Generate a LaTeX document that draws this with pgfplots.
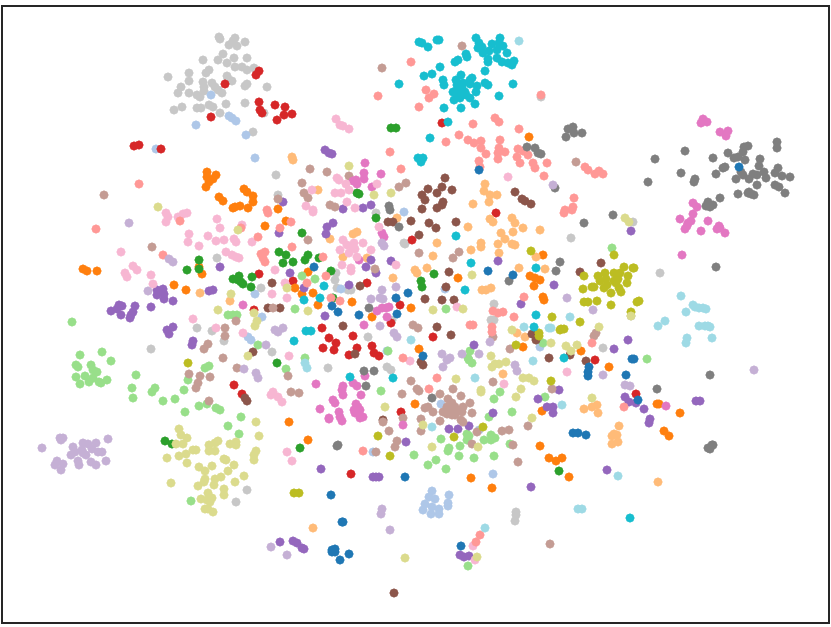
\documentclass[border=0pt]{standalone}
\usepackage{pgfplots}
\pgfplotsset{compat=1.18}
% tab20 palette
\definecolor{c0}{HTML}{1F77B4}
\definecolor{c1}{HTML}{AEC7E8}
\definecolor{c2}{HTML}{FF7F0E}
\definecolor{c3}{HTML}{FFBB78}
\definecolor{c4}{HTML}{2CA02C}
\definecolor{c5}{HTML}{98DF8A}
\definecolor{c6}{HTML}{D62728}
\definecolor{c7}{HTML}{FF9896}
\definecolor{c8}{HTML}{9467BD}
\definecolor{c9}{HTML}{C5B0D5}
\definecolor{c10}{HTML}{8C564B}
\definecolor{c11}{HTML}{C49C94}
\definecolor{c12}{HTML}{E377C2}
\definecolor{c13}{HTML}{F7B6D2}
\definecolor{c14}{HTML}{7F7F7F}
\definecolor{c15}{HTML}{C7C7C7}
\definecolor{c16}{HTML}{BCBD22}
\definecolor{c17}{HTML}{DBDB8D}
\definecolor{c18}{HTML}{17BECF}
\definecolor{c19}{HTML}{9EDAE5}
\pgfplotsset{pts/.style={only marks, mark=*, mark size=4.3pt, color=#1, mark options={draw=none, fill=#1}}}
\begin{document}
\begin{tikzpicture}
\begin{axis}[
    scale only axis,
    width=827pt, height=617pt,
    xmin=2, xmax=829, ymin=6, ymax=623,
    y dir=reverse,
    ticks=none,
    clip=false,
    axis line style={line width=1.5pt, color=black!85},
]
\path (axis cs:0,0) -- (axis cs:831,627);
\addplot[pts=c15] coordinates {(219,37)(220,39)(235,38)(233,41)(229,45)(237,46)(245,42)(223,54)(203,60)(218,60)(227,63)(234,58)(247,58)(235,67)(242,67)(247,70)(254,68)(209,70)(206,73)(189,73)(189,81)(168,77)(227,76)(228,79)(232,81)(203,82)(212,83)(247,84)(245,86)(267,87)(204,87)(204,91)(215,87)(218,90)(222,93)(181,87)(178,93)(189,93)(197,95)(200,97)(245,103)(226,104)(209,105)(213,107)(182,107)(174,110)(197,108)(201,108)(220,113)(264,113)(253,132)(276,175)(278,195)(571,238)(217,258)(261,288)(197,328)(212,331)(224,341)(151,349)(272,352)(336,273)(337,288)(348,290)(351,290)(405,244)(368,337)(387,367)(391,370)(328,368)(491,320)(494,320)(494,304)(603,348)(236,502)(247,490)(516,512)(516,515)(515,521)(376,213)(335,280)(404,243)(392,320)(541,97)(633,222)(631,316)(660,273)};
\addplot[pts=c1] coordinates {(211,95)(196,125)(229,116)(232,118)(236,121)(246,135)(156,149)(255,158)(255,294)(262,317)(248,337)(251,340)(404,212)(341,289)(445,289)(441,404)(387,351)(540,347)(373,452)(493,474)(432,491)(429,497)(435,499)(425,504)(432,507)(423,510)(431,514)(439,509)(439,514)(449,495)(448,503)(448,506)(479,430)};
\addplot[pts=c6] coordinates {(259,71)(256,75)(225,84)(259,102)(275,105)(260,110)(262,113)(277,120)(211,117)(139,145)(134,146)(161,149)(285,107)(284,115)(292,114)(442,123)(259,274)(254,310)(234,385)(242,394)(496,213)(412,240)(293,281)(367,283)(400,305)(391,323)(322,328)(329,338)(336,343)(353,336)(323,348)(334,350)(357,348)(349,355)(372,346)(374,353)(379,356)(433,337)(401,412)(595,360)(636,394)(351,474)};
\addplot[pts=c2] coordinates {(207,172)(207,177)(216,175)(213,179)(209,182)(206,187)(219,197)(223,201)(244,189)(247,192)(253,196)(253,202)(235,207)(240,206)(248,208)(233,208)(278,209)(529,137)(83,269)(87,271)(97,271)(199,267)(202,274)(174,285)(186,290)(265,226)(286,221)(308,272)(295,288)(302,294)(313,293)(318,305)(352,302)(372,317)(411,308)(458,278)(415,404)(419,349)(543,255)(530,276)(535,278)(540,280)(534,286)(543,297)(544,300)(523,347)(581,351)(609,367)(657,404)(659,404)(680,413)(289,422)(308,440)(540,446)(549,458)(556,461)(471,478)(492,488)(664,431)(669,436)(562,458)(569,477)(542,411)};
\addplot[pts=c3] coordinates {(292,157)(293,160)(318,190)(485,184)(484,191)(490,195)(497,195)(489,202)(473,204)(200,293)(230,301)(357,232)(353,234)(330,239)(343,257)(367,258)(397,218)(393,278)(415,270)(417,273)(427,268)(433,256)(437,243)(468,227)(471,250)(481,243)(481,247)(499,253)(498,244)(501,233)(505,239)(512,244)(515,245)(512,218)(515,223)(513,232)(523,228)(540,230)(490,219)(493,222)(536,257)(545,269)(519,268)(482,290)(486,290)(491,288)(517,333)(525,337)(503,374)(584,409)(592,407)(597,405)(598,413)(313,528)(619,426)(614,434)(612,436)(617,435)(618,442)(612,444)(658,482)};
\addplot[pts=c4] coordinates {(391,128)(396,128)(357,193)(359,194)(199,260)(187,270)(199,269)(233,279)(239,276)(238,280)(241,282)(243,284)(252,277)(251,287)(279,252)(277,363)(302,233)(376,218)(286,255)(283,263)(293,262)(305,260)(308,255)(319,258)(331,271)(333,298)(434,274)(421,281)(422,287)(165,441)(172,444)(300,448)(559,471)};
\addplot[pts=c5] coordinates {(72,322)(80,355)(102,352)(111,361)(76,365)(78,367)(91,365)(93,370)(97,372)(76,377)(85,376)(80,384)(89,382)(93,378)(99,382)(101,383)(107,380)(136,375)(132,388)(133,398)(155,388)(152,392)(163,401)(175,399)(184,390)(188,380)(205,368)(209,366)(199,406)(207,404)(216,408)(220,410)(185,412)(241,417)(228,315)(233,315)(237,315)(258,345)(302,276)(315,279)(295,309)(446,309)(388,351)(305,358)(286,369)(381,391)(470,351)(468,358)(469,360)(472,363)(543,343)(545,397)(512,412)(494,399)(500,392)(489,417)(612,248)(647,359)(228,426)(239,434)(191,501)(414,455)(436,460)(428,465)(446,469)(441,439)(449,448)(448,451)(459,456)(460,446)(474,458)(494,456)(484,440)(491,435)(495,438)(491,440)(467,434)(469,436)(467,440)(510,444)(468,566)};
\addplot[pts=c8] coordinates {(325,150)(329,153)(332,154)(343,209)(363,208)(371,205)(283,202)(220,267)(157,290)(163,289)(157,295)(164,294)(164,299)(173,301)(151,307)(209,291)(213,290)(119,305)(122,306)(117,309)(111,311)(121,315)(135,306)(133,312)(131,315)(130,318)(173,327)(167,330)(169,334)(193,341)(192,345)(279,233)(333,223)(327,227)(326,234)(290,273)(304,288)(349,285)(366,267)(371,260)(376,273)(391,261)(325,316)(498,261)(521,304)(554,285)(474,345)(538,399)(547,407)(553,407)(553,413)(493,413)(631,231)(628,340)(614,349)(559,390)(625,397)(629,402)(636,403)(644,409)(650,419)(696,401)(700,401)(321,469)(406,442)(373,477)(379,477)(376,477)(449,429)(458,429)(469,426)(293,541)(297,543)(302,548)(304,549)(280,542)(460,555)(464,557)(469,556)(531,487)(649,423)(607,470)};
\addplot[pts=c10] coordinates {(445,178)(442,187)(452,190)(428,189)(437,193)(422,195)(425,200)(443,202)(437,208)(422,209)(442,205)(515,192)(522,199)(525,201)(531,204)(272,283)(268,308)(280,308)(253,352)(245,398)(247,401)(388,222)(393,222)(411,221)(429,223)(436,228)(419,235)(456,222)(449,272)(360,286)(446,287)(425,299)(442,300)(454,300)(343,326)(437,327)(451,335)(355,354)(421,362)(423,365)(536,340)(532,334)(549,358)(601,263)(580,272)(570,355)(586,361)(383,420)(394,593)};
\addplot[pts=c11] coordinates {(104,195)(278,199)(462,46)(382,68)(310,169)(327,172)(302,183)(304,193)(308,198)(330,205)(335,207)(349,176)(399,187)(406,183)(576,162)(152,247)(236,321)(273,308)(225,328)(225,336)(208,344)(204,349)(223,358)(237,368)(189,374)(200,376)(210,377)(198,383)(196,388)(209,401)(308,240)(375,269)(419,253)(453,258)(459,252)(413,325)(418,328)(493,337)(510,349)(288,376)(291,392)(299,393)(411,381)(417,389)(419,391)(402,394)(440,394)(453,389)(461,396)(493,382)(552,389)(448,399)(452,403)(447,407)(455,407)(450,410)(453,412)(457,410)(443,412)(447,414)(452,415)(455,415)(428,407)(425,408)(433,412)(463,407)(462,412)(470,403)(472,413)(403,418)(596,333)(594,336)(383,422)(389,431)(397,441)(395,447)(376,452)(421,431)(421,419)(440,421)(461,420)(463,422)(477,432)(472,444)(502,431)(509,430)(513,445)(518,462)(528,426)(550,544)};
\addplot[pts=c12] coordinates {(365,163)(364,173)(364,179)(381,174)(353,181)(356,180)(357,184)(372,187)(703,119)(701,123)(707,122)(720,132)(728,131)(726,136)(693,203)(697,207)(693,214)(680,219)(691,221)(688,223)(687,226)(685,229)(708,221)(701,231)(719,226)(717,229)(720,228)(725,233)(682,255)(666,406)(243,305)(364,325)(377,311)(382,308)(386,308)(389,307)(387,317)(316,384)(353,383)(357,386)(343,386)(342,390)(343,395)(361,395)(333,400)(335,403)(320,409)(356,404)(358,407)(354,410)(355,413)(360,410)(339,412)(340,417)(329,418)(365,376)(360,418)(329,419)(342,421)(363,417)(403,425)(382,233)(384,237)(359,260)};
\addplot[pts=c13] coordinates {(336,119)(340,125)(343,126)(349,129)(508,177)(337,178)(339,180)(346,184)(312,190)(335,193)(341,193)(349,190)(377,184)(347,202)(306,206)(313,210)(355,208)(166,213)(168,217)(166,222)(178,217)(187,213)(183,214)(217,219)(220,228)(242,225)(189,234)(188,242)(199,246)(208,236)(216,241)(224,240)(234,239)(236,242)(252,242)(226,252)(232,255)(236,257)(239,258)(121,252)(133,266)(137,270)(125,273)(127,277)(151,275)(153,284)(275,270)(272,294)(193,319)(216,328)(243,333)(271,395)(273,392)(278,397)(285,283)(287,298)(343,240)(347,245)(354,243)(363,243)(352,246)(340,250)(349,253)(355,249)(357,257)(371,250)(342,265)(351,268)(351,271)(396,265)(313,212)(379,227)(457,307)(410,361)(289,356)(504,384)(282,402)(567,372)(287,452)(292,461)(473,546)(475,560)};
\addplot[pts=c7] coordinates {(139,184)(267,210)(411,62)(378,96)(426,90)(434,94)(429,98)(419,107)(541,95)(495,118)(499,122)(473,124)(519,129)(459,135)(468,140)(474,143)(481,141)(481,148)(500,140)(446,142)(390,152)(486,154)(499,148)(505,152)(498,153)(498,159)(518,149)(523,151)(528,155)(517,157)(520,163)(533,163)(535,168)(547,163)(544,176)(479,161)(480,167)(401,169)(585,167)(588,170)(595,174)(599,171)(603,174)(574,198)(573,207)(565,210)(564,213)(572,210)(96,229)(163,255)(180,221)(241,228)(258,237)(261,254)(265,252)(263,258)(265,262)(268,213)(280,228)(291,222)(292,247)(323,257)(307,283)(326,276)(331,298)(340,301)(403,358)(437,378)(429,389)(493,311)(498,313)(503,312)(514,317)(524,297)(470,325)(473,325)(492,327)(492,332)(592,343)(624,407)(363,451)(480,535)(476,542)};
\addplot[pts=c14] coordinates {(568,129)(573,127)(574,133)(582,133)(566,137)(655,159)(685,151)(648,182)(681,173)(694,182)(695,179)(713,158)(728,153)(734,158)(738,157)(743,152)(744,147)(748,146)(745,160)(723,168)(725,167)(716,174)(741,172)(743,175)(736,179)(749,179)(753,174)(757,175)(766,178)(764,172)(757,185)(760,159)(759,166)(777,142)(777,148)(778,168)(775,173)(782,176)(790,177)(775,185)(779,187)(785,193)(738,194)(749,192)(751,194)(754,195)(748,193)(720,198)(708,202)(706,206)(713,205)(710,207)(555,188)(535,148)(538,153)(541,154)(527,147)(389,206)(390,210)(399,227)(369,308)(432,398)(366,386)(364,371)(374,371)(509,281)(556,271)(560,262)(613,215)(584,223)(716,267)(710,375)(657,389)(338,445)(337,446)(712,445)(708,448)(710,449)(713,445)};
\addplot[pts=c16] coordinates {(614,255)(624,267)(633,268)(634,268)(605,273)(614,273)(620,273)(598,276)(584,276)(628,276)(600,281)(606,279)(614,281)(618,279)(627,283)(607,285)(604,288)(594,287)(592,287)(616,283)(583,289)(619,288)(621,292)(611,293)(639,301)(637,302)(597,301)(584,302)(588,302)(611,305)(631,312)(552,317)(580,322)(561,329)(564,329)(551,381)(531,251)(539,333)(539,336)(516,345)(560,330)(188,363)(378,436)(390,456)(454,437)(483,427)(294,493)(299,493)};
\addplot[pts=c17] coordinates {(179,429)(181,435)(187,438)(176,444)(183,444)(167,458)(179,456)(186,454)(187,463)(193,450)(196,450)(209,445)(218,441)(215,443)(209,451)(215,451)(230,444)(236,442)(236,445)(256,422)(259,436)(256,451)(254,455)(254,460)(224,459)(226,460)(234,465)(212,466)(199,467)(205,471)(228,471)(244,476)(235,482)(221,477)(215,479)(214,485)(205,479)(204,482)(198,486)(171,483)(224,489)(224,495)(208,493)(212,498)(201,499)(207,500)(210,502)(205,509)(208,509)(213,512)(158,207)(238,230)(231,294)(218,310)(254,313)(257,321)(255,326)(248,356)(349,166)(374,195)(391,193)(625,218)(629,222)(599,327)(566,346)(571,351)(577,345)(631,316)(592,398)(551,343)(287,288)(308,311)(472,275)(433,310)(463,309)(512,330)(491,356)(492,367)(495,364)(499,364)(506,362)(456,379)(481,390)(481,392)(523,378)(529,378)(534,381)(521,389)(516,397)(385,407)(532,418)(423,425)(432,447)(478,447)(405,558)(477,557)};
\addplot[pts=c9] coordinates {(553,185)(384,246)(382,243)(371,299)(380,298)(383,299)(382,290)(396,287)(380,326)(394,333)(397,337)(442,354)(450,358)(447,360)(443,367)(462,354)(479,354)(490,342)(515,365)(517,371)(283,328)(129,223)(169,259)(173,262)(148,291)(244,369)(256,373)(258,378)(266,345)(275,330)(278,332)(567,298)(593,310)(603,375)(625,385)(630,386)(754,370)(60,438)(63,438)(61,440)(42,448)(73,447)(83,443)(88,444)(96,443)(108,439)(92,449)(98,452)(102,452)(75,452)(71,455)(82,450)(83,453)(86,455)(57,461)(55,465)(63,464)(61,470)(78,461)(79,465)(91,462)(96,465)(106,461)(271,547)(382,509)(381,514)(390,530)(287,555)};
\addplot[pts=c18] coordinates {(419,42)(422,43)(428,47)(437,40)(439,40)(476,38)(500,38)(479,43)(482,47)(478,48)(483,53)(492,44)(499,43)(503,46)(497,50)(489,51)(507,53)(466,54)(467,57)(458,60)(455,62)(488,59)(488,62)(497,58)(502,62)(508,63)(512,65)(514,61)(440,67)(432,74)(424,76)(485,71)(399,84)(461,75)(513,84)(443,80)(444,85)(456,80)(457,85)(463,83)(472,78)(470,80)(470,84)(477,86)(476,92)(485,83)(488,85)(453,92)(457,90)(462,88)(465,92)(458,94)(462,95)(460,98)(454,100)(466,95)(470,98)(499,96)(444,108)(461,108)(475,104)(448,122)(430,138)(418,158)(423,158)(421,162)(456,236)(471,263)(465,290)(536,268)(536,315)(534,327)(324,286)(304,300)(320,298)(306,331)(311,331)(294,341)(350,377)(393,378)(564,358)(630,518)};
\addplot[pts=c0] coordinates {(479,170)(739,167)(314,267)(332,306)(338,312)(359,315)(396,298)(408,293)(397,314)(488,271)(513,275)(423,356)(589,367)(588,372)(588,376)(626,375)(632,359)(634,359)(638,400)(405,477)(331,495)(342,522)(343,522)(332,550)(335,549)(332,552)(335,552)(349,554)(340,560)(461,546)(573,433)(578,433)(586,435)};
\addplot[pts=c19] coordinates {(519,41)(681,296)(693,305)(695,307)(699,308)(703,308)(706,309)(686,312)(658,326)(665,321)(699,326)(705,326)(708,326)(710,327)(687,338)(686,343)(712,338)(570,317)(551,328)(524,327)(549,328)(411,340)(305,363)(307,368)(475,378)(533,361)(562,405)(432,427)(485,528)(618,476)(578,509)(582,509)};
\end{axis}
\end{tikzpicture}
\end{document}
